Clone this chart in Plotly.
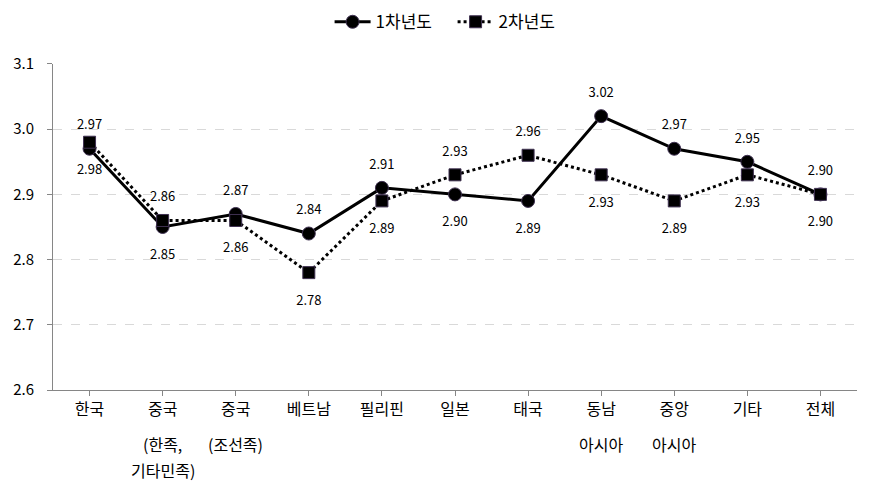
import plotly.graph_objects as go

# categories (tick label lines) and values
label_line1 = ['한국', '중국', '중국', '베트남', '필리핀', '일본', '태국', '동남', '중앙', '기타', '전체']
label_line2 = ['', '(한족,', '(조선족)', '', '', '', '', '아시아', '아시아', '', '']
label_line3 = ['', '기타민족)', '', '', '', '', '', '', '', '', '']
year1 = [2.97, 2.85, 2.87, 2.84, 2.91, 2.90, 2.89, 3.02, 2.97, 2.95, 2.90]
year2 = [2.98, 2.86, 2.86, 2.78, 2.89, 2.93, 2.96, 2.93, 2.89, 2.93, 2.90]

# which side each 1차년도 label sits on (2차년도 is the opposite)
above1 = [True, False, True, True, True, False, False, True, True, True, True]

cats = list(range(len(label_line1)))
font = 'Noto Sans CJK KR, Malgun Gothic, sans-serif'

trace1 = go.Scatter(x=cats, y=year1, mode='lines+markers', name='1차년도',
                    line=dict(color='black', width=3),
                    marker=dict(symbol='circle', size=13, color='black', line=dict(color='#3f3151', width=1)))
trace2 = go.Scatter(x=cats, y=year2, mode='lines+markers', name='2차년도',
                    line=dict(color='black', width=3, dash='dot'),
                    marker=dict(symbol='square', size=12, color='black', line=dict(color='#3f3151', width=1)))


def label_trace(values, above):
    # invisible markers push the value labels away from the points
    return go.Scatter(x=cats, y=values, mode='markers+text', showlegend=False, hoverinfo='skip',
                      marker=dict(size=[24 if a else 34 for a in above], opacity=0),
                      text=[f'{v:.2f}' for v in values],
                      textposition=['top center' if a else 'bottom center' for a in above],
                      textfont=dict(size=13, color='black', family=font))


layout = go.Layout(
    width=872, height=494,
    margin=dict(l=53, r=15, t=57, b=104),
    plot_bgcolor='white', paper_bgcolor='white',
    font=dict(family=font, size=15, color='black'),
    showlegend=True,
    legend=dict(orientation='h', x=0.497, xanchor='center', yref='container', y=0.955, yanchor='middle',
                font=dict(size=17), itemwidth=36, entrywidth=72, entrywidthmode='pixels'),
    xaxis=dict(range=[-0.5, 10.5], tickvals=cats, ticktext=label_line1, tickson='boundaries',
               ticks='outside', ticklen=5, tickcolor='#868686', showline=True, linecolor='#868686',
               linewidth=1, showgrid=False, zeroline=False, tickfont=dict(size=16)),
    yaxis=dict(range=[2.6, 3.1], dtick=0.1, tickformat='.1f', ticks='outside', ticklen=5,
               tickcolor='#868686', showline=True, linecolor='#868686', linewidth=1,
               ticklabelstandoff=10,
               showgrid=True, gridcolor='#d9d9d9', griddash='dash', zeroline=False),
)

fig = go.Figure(data=[trace1, trace2,
                      label_trace(year1, above1),
                      label_trace(year2, [not a for a in above1])], layout=layout)

# extra rows of the category labels
for i in cats:
    for row, lines in ((1, label_line2), (2, label_line3)):
        if lines[i]:
            fig.add_annotation(x=i, y=0, xref='x', yref='paper', text=lines[i], showarrow=False,
                               yanchor='middle', yshift=-27 - 26.5 * row, font=dict(size=16))

fig.write_html("out.html", config={'displayModeBar': False},
               post_script="document.body.style.margin='0';")
